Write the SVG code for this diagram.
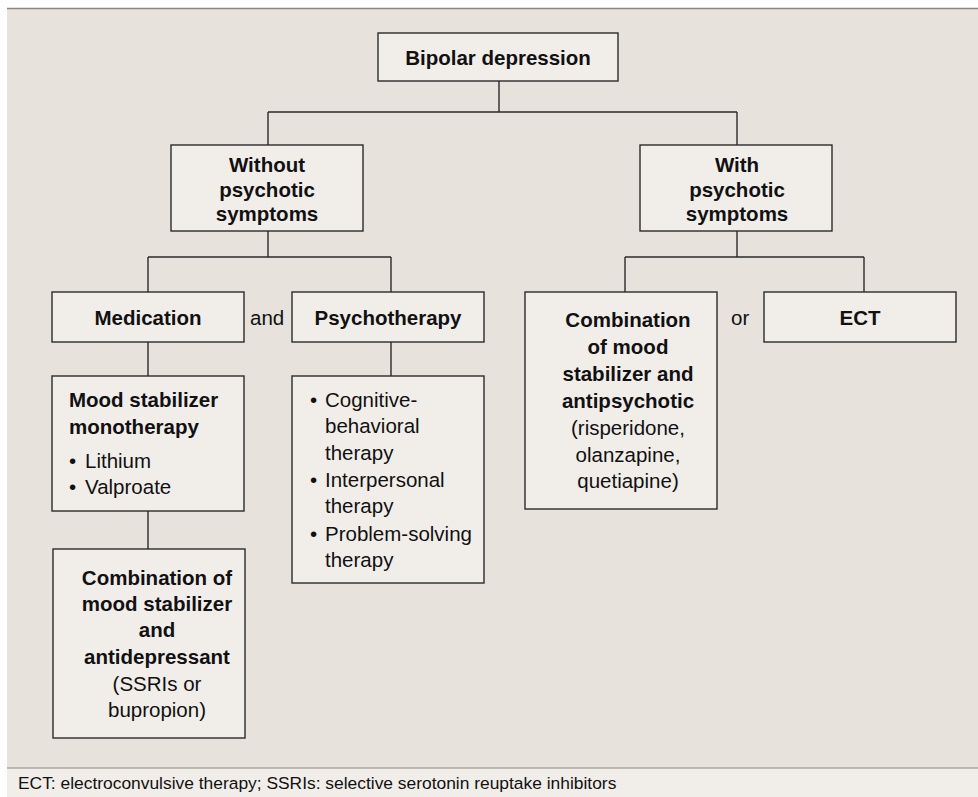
<svg xmlns="http://www.w3.org/2000/svg" width="978" height="797" viewBox="0 0 978 797">
<style>
.bg{fill:#e7e2dc}
.box{fill:#f1eeea;stroke:#2b2b2b;stroke-width:1.4}
.con{fill:none;stroke:#2b2b2b;stroke-width:1.4}
text{font-family:"Liberation Sans",Arial,Helvetica,sans-serif;fill:#111}
.b{font-weight:bold;font-size:20.5px}
.r{font-size:20.5px}
.c{text-anchor:middle}
.foot{font-size:17.4px}
</style>
<rect x="0" y="0" width="978" height="797" fill="#ffffff"/>
<rect class="bg" x="7" y="8" width="971" height="760"/>
<line x1="7" y1="8.5" x2="978" y2="8.5" stroke="#8a8782" stroke-width="1.6"/>
<rect x="7" y="768" width="971" height="29" fill="#f1eeea"/>
<line x1="7" y1="768" x2="978" y2="768" stroke="#aaa7a2" stroke-width="1.6"/>
<text class="foot" x="18" y="789">ECT: electroconvulsive therapy; SSRIs: selective serotonin reuptake inhibitors</text>

<g id="connectors">
<path class="con" d="M499,81 V112 M268,112 H737 M268,112 V145 M737,112 V145"/>
<path class="con" d="M268,231 V257 M148,257 H391 M148,257 V292 M391,257 V292"/>
<path class="con" d="M737,231 V257 M625,257 H864 M625,257 V292 M864,257 V292"/>
<path class="con" d="M148,342 V376 M391,342 V376 M148,511 V549"/>
</g>

<g id="bipolar">
<rect class="box" x="378" y="33" width="240" height="48"/>
<text class="b c" x="498" y="65">Bipolar depression</text>
</g>

<g id="without">
<rect class="box" x="171" y="145" width="192" height="86"/>
<text class="b c" x="267" y="172">Without</text>
<text class="b c" x="267" y="196.5">psychotic</text>
<text class="b c" x="267" y="221">symptoms</text>
</g>

<g id="with">
<rect class="box" x="640" y="145" width="192" height="86"/>
<text class="b c" x="737" y="172">With</text>
<text class="b c" x="737" y="196.5">psychotic</text>
<text class="b c" x="737" y="221">symptoms</text>
</g>

<g id="medication">
<rect class="box" x="52" y="292" width="192" height="50"/>
<text class="b c" x="148" y="325">Medication</text>
</g>

<text class="r" x="250" y="325">and</text>

<g id="psychotherapy">
<rect class="box" x="292" y="292" width="192" height="50"/>
<text class="b c" x="388" y="325">Psychotherapy</text>
</g>

<g id="combo-antipsychotic">
<rect class="box" x="525" y="292" width="192" height="217"/>
<text class="b c" x="628" y="327">Combination</text>
<text class="b c" x="628" y="354">of mood</text>
<text class="b c" x="628" y="381">stabilizer and</text>
<text class="b c" x="628" y="408">antipsychotic</text>
<text class="r c" x="628" y="435">(risperidone,</text>
<text class="r c" x="628" y="462">olanzapine,</text>
<text class="r c" x="628" y="488">quetiapine)</text>
</g>

<text class="r" x="731" y="325">or</text>

<g id="ect">
<rect class="box" x="764" y="292" width="192" height="50"/>
<text class="b c" x="860" y="325">ECT</text>
</g>

<g id="monotherapy">
<rect class="box" x="52" y="376" width="192" height="135"/>
<text class="b" x="69" y="407">Mood stabilizer</text>
<text class="b" x="69" y="434">monotherapy</text>
<text class="r" x="69" y="468">•</text><text class="r" x="85" y="468">Lithium</text>
<text class="r" x="69" y="494">•</text><text class="r" x="85" y="494">Valproate</text>
</g>

<g id="psycho-list">
<rect class="box" x="292" y="376" width="192" height="207"/>
<text class="r" x="310" y="407">•</text><text class="r" x="325" y="407">Cognitive-</text>
<text class="r" x="325" y="433">behavioral</text>
<text class="r" x="325" y="460">therapy</text>
<text class="r" x="310" y="487">•</text><text class="r" x="325" y="487">Interpersonal</text>
<text class="r" x="325" y="513">therapy</text>
<text class="r" x="310" y="541">•</text><text class="r" x="325" y="541">Problem-solving</text>
<text class="r" x="325" y="567">therapy</text>
</g>

<g id="combo-antidepressant">
<rect class="box" x="53" y="549" width="192" height="189"/>
<text class="b c" x="157" y="585">Combination of</text>
<text class="b c" x="157" y="611">mood stabilizer</text>
<text class="b c" x="157" y="637">and</text>
<text class="b c" x="157" y="664">antidepressant</text>
<text class="r c" x="157" y="691">(SSRIs or</text>
<text class="r c" x="157" y="717">bupropion)</text>
</g>
</svg>
